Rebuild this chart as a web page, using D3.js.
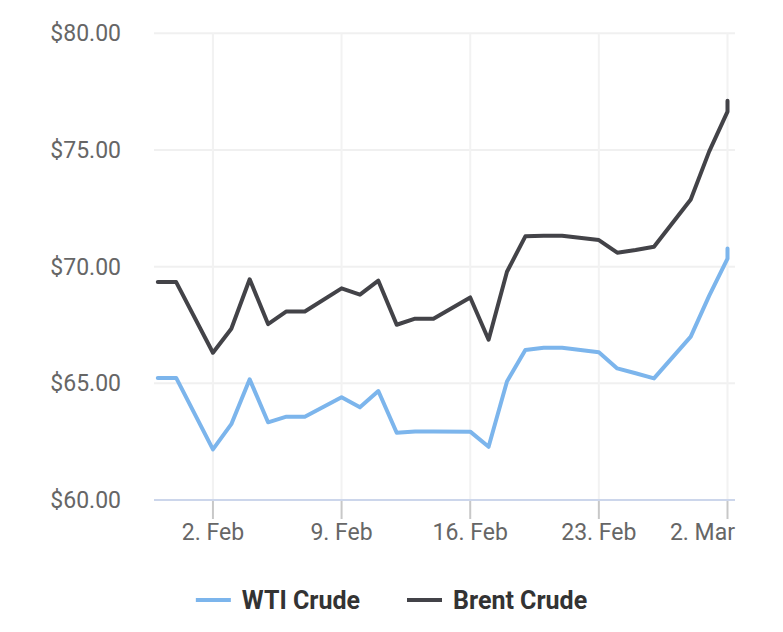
<!DOCTYPE html>
<html>
<head>
<meta charset="utf-8">
<script src="https://cdn.jsdelivr.net/npm/d3@7"></script>
<style>
  html, body { margin: 0; padding: 0; background: #ffffff; }
  svg { display: block; font-family: Roboto, "Noto Sans", sans-serif; }
</style>
</head>
<body>
<svg id="chart" width="783" height="632"></svg>
<script>
// ---- data ----
const dates = [
  "2018-01-30", "2018-01-31", "2018-02-02", "2018-02-03", "2018-02-04", "2018-02-05",
  "2018-02-06", "2018-02-07", "2018-02-09", "2018-02-10", "2018-02-11", "2018-02-12",
  "2018-02-13", "2018-02-14", "2018-02-16", "2018-02-17", "2018-02-18", "2018-02-19",
  "2018-02-20", "2018-02-21", "2018-02-23", "2018-02-24", "2018-02-25", "2018-02-26",
  "2018-02-28", "2018-03-01", "2018-03-02", "2018-03-02"
];
const wtiValues = [
  65.23, 65.23, 62.17, 63.25, 65.17, 63.33,
  63.57, 63.57, 64.40, 63.97, 64.67, 62.88,
  62.94, 62.94, 62.93, 62.28, 65.08, 66.43,
  66.52, 66.52, 66.33, 65.64, 65.43, 65.21,
  67.00, 68.75, 70.34, 70.78
];
const brentValues = [
  69.34, 69.34, 66.31, 67.34, 69.46, 67.54,
  68.08, 68.08, 69.07, 68.80, 69.40, 67.51,
  67.77, 67.77, 68.68, 66.87, 69.78, 71.30,
  71.32, 71.32, 71.14, 70.60, 70.71, 70.85,
  72.88, 74.93, 76.64, 77.11
];
const seriesNames = ["WTI Crude", "Brent Crude"];
const seriesColors = ["#7cb5ec", "#434348"];
const yTickValues = [60, 65, 70, 75, 80];
const xTickDates = ["2018-02-02", "2018-02-09", "2018-02-16", "2018-02-23", "2018-03-02"];

// ---- layout ----
const parse = d3.timeParse("%Y-%m-%d");
const plot = { left: 154, right: 735, top: 33.3, bottom: 500 };
const svg = d3.select("#chart");

const x = d3.scaleTime()
  .domain(d3.extent(dates, parse))
  .range([157.8, 727.5]);
const y = d3.scaleLinear()
  .domain([60, 80])
  .range([plot.bottom, plot.top]);

// horizontal grid
svg.append("g").selectAll("line")
  .data(yTickValues.filter(v => v !== 60))
  .join("line")
  .attr("x1", plot.left).attr("x2", plot.right)
  .attr("y1", d => y(d)).attr("y2", d => y(d))
  .attr("stroke", "#f0f0f0").attr("stroke-width", 2);

// vertical grid
const xt = xTickDates.map(parse);
svg.append("g").selectAll("line")
  .data(xt)
  .join("line")
  .attr("x1", d => x(d)).attr("x2", d => x(d))
  .attr("y1", plot.top).attr("y2", plot.bottom)
  .attr("stroke", "#f2f2f2").attr("stroke-width", 2);

// y labels
const yFmt = d3.format("$.2f");
svg.append("g").selectAll("text")
  .data(yTickValues)
  .join("text")
  .attr("x", 121).attr("y", d => y(d) + 8)
  .attr("text-anchor", "end")
  .attr("fill", "#666666")
  .attr("font-size", 23)
  .text(d => yFmt(d));

// x axis line
svg.append("line")
  .attr("x1", plot.left).attr("x2", plot.right)
  .attr("y1", plot.bottom).attr("y2", plot.bottom)
  .attr("stroke", "#ccd6eb").attr("stroke-width", 2);

// x ticks
const xFmt = d3.timeFormat("%-d. %b");
svg.append("g").selectAll("line")
  .data(xt)
  .join("line")
  .attr("x1", d => x(d)).attr("x2", d => x(d))
  .attr("y1", plot.bottom + 1).attr("y2", plot.bottom + 19)
  .attr("stroke", "#c8c8c8").attr("stroke-width", 2);
svg.append("g").selectAll("text")
  .data(xt)
  .join("text")
  .attr("x", d => x(d)).attr("y", 540)
  .attr("text-anchor", "middle")
  .attr("fill", "#666666")
  .attr("font-size", 23)
  .text(d => xFmt(d))
  .each(function () {
    // keep labels inside the plot's right edge
    const b = this.getBBox();
    if (b.x + b.width > plot.right) {
      d3.select(this).attr("text-anchor", "end").attr("x", plot.right);
    }
  });

// lines
const allSeries = [wtiValues, brentValues];
const line = d3.line()
  .x((d, i) => x(parse(dates[i])))
  .y(d => y(d));
svg.append("g").selectAll("path")
  .data(allSeries)
  .join("path")
  .attr("d", d => line(d))
  .attr("fill", "none")
  .attr("stroke", (d, i) => seriesColors[i])
  .attr("stroke-width", 4)
  .attr("stroke-linejoin", "round")
  .attr("stroke-linecap", "round");

// legend
const legend = svg.append("g");
const symW = 35, symGap = 11, itemGap = 47;
let cursor = 0;
seriesNames.forEach((name, i) => {
  const g = legend.append("g");
  g.append("line")
    .attr("x1", 0).attr("x2", symW)
    .attr("y1", 600).attr("y2", 600)
    .attr("stroke", seriesColors[i]).attr("stroke-width", 4);
  const t = g.append("text")
    .attr("x", symW + symGap).attr("y", 609)
    .attr("fill", "#333333")
    .attr("font-size", 25)
    .attr("font-weight", "bold")
    .text(name);
  const w = symW + symGap + t.node().getComputedTextLength();
  g.attr("transform", `translate(${cursor},0)`);
  cursor += w + itemGap;
});
const totalW = cursor - itemGap;
legend.attr("transform", `translate(${(783 - totalW) / 2},0)`);
</script>
</body>
</html>
